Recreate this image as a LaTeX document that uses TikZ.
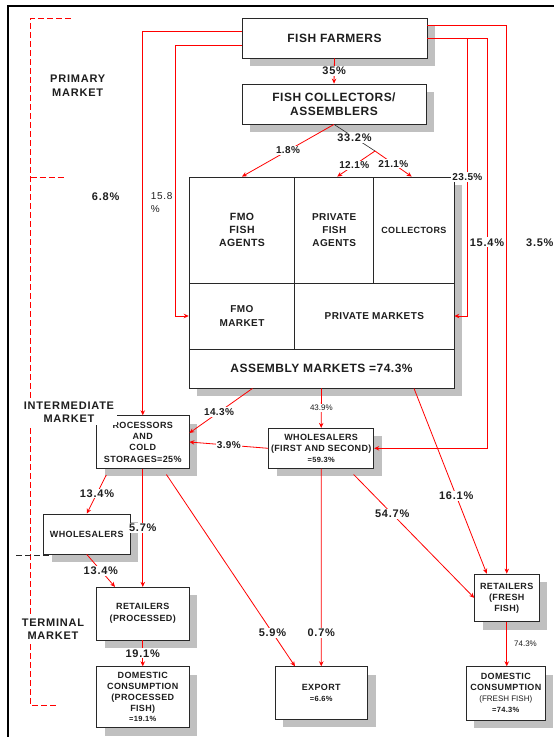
\documentclass[tikz,border=0pt]{standalone}
\usepackage{fontspec}
\setmainfont{Liberation Sans}
\newfontfamily\spacedfont[LetterSpace=4]{Liberation Sans}
\newfontfamily\widefont[LetterSpace=7]{Liberation Sans}
\usepackage{xcolor}
\usepackage{tikz}
\usetikzlibrary{arrows.meta, positioning, shadows, calc}
\definecolor{flowred}{RGB}{255, 0, 0}
\definecolor{textdark}{RGB}{30, 30, 30}
\definecolor{boxline}{RGB}{40, 40, 40}
\definecolor{shadowgray}{RGB}{192, 192, 192}

\begin{document}
\begin{tikzpicture}[
    x=1pt, y=-1pt,
    fishbox/.style={
        draw=boxline,
        fill=white,
        line width=0.8pt,
        align=center,
        text=textdark,
        inner sep=1pt,
        font=\spacedfont\bfseries\fontsize{9}{11}\selectfont,
        drop shadow={shadow xshift=8pt, shadow yshift=-8pt, fill=shadowgray, opacity=1}
    },
    cell/.style={
        draw=boxline,
        line width=0.8pt,
        align=center,
        text=textdark,
        inner sep=1pt,
        font=\spacedfont\bfseries\fontsize{10}{13.3}\selectfont
    },
    flow/.style={draw=flowred, line width=0.8pt, -{Stealth[length=5pt, width=4.5pt]}},
    pct/.style={fill=white, inner sep=1pt, text=textdark, font=\widefont\bfseries\fontsize{11}{12}\selectfont},
    pctmid/.style={fill=white, inner sep=1pt, text=textdark, font=\spacedfont\bfseries\fontsize{10}{11}\selectfont},
    pctsmall/.style={fill=white, inner sep=1pt, text=textdark, font=\fontsize{8}{9}\selectfont},
    pctplain/.style={inner sep=1pt, text=textdark, align=left, font=\widefont\fontsize{10}{13}\selectfont},
    market/.style={fill=white, inner sep=2.5pt, align=center, text=textdark, font=\widefont\bfseries\fontsize{11}{13.5}\selectfont}
]
\useasboundingbox (0,0) rectangle (554,737);

% frame and market brackets
\draw[black, line width=1.5pt] (7.8,737) -- (7.8,6) -- (554,6);
\draw[flowred, line width=0.7pt, dash pattern=on 6pt off 3pt] (70.7,18) -- (30.7,18) -- (30.7,705.7) -- (57.6,705.7);
\draw[flowred, line width=0.7pt, dash pattern=on 6pt off 3pt] (30.7,177.7) -- (66,177.7);
\draw[boxline, line width=0.7pt, dash pattern=on 6pt off 3pt] (16,555.3) -- (58,555.3);

% boxes
\node[fishbox, minimum width=185pt, minimum height=40pt, font=\spacedfont\bfseries\fontsize{12}{14}\selectfont] (farmers) at (334.5,38) {FISH FARMERS};
\node[fishbox, minimum width=184pt, minimum height=40pt, font=\spacedfont\bfseries\fontsize{12}{14}\selectfont] (collectors) at (334,104) {FISH COLLECTORS/\\ASSEMBLERS};

\node[fishbox, minimum width=265pt, minimum height=211pt] (mkt) at (321.5,282.5) {};
\node[cell, minimum width=105.7pt, minimum height=106pt, font=\spacedfont\bfseries\fontsize{10.5}{13.3}\selectfont] (fmoagent) at (242,230) {FMO\\FISH\\AGENTS};
\node[cell, minimum width=79.1pt, minimum height=106pt] (privagent) at (334.25,230) {PRIVATE\\FISH\\AGENTS};
\node[cell, minimum width=80.2pt, minimum height=106pt, font=\spacedfont\bfseries\fontsize{9}{11}\selectfont] (collcell) at (413.9,230) {COLLECTORS};
\node[cell, minimum width=105.7pt, minimum height=66pt] (fmomarket) at (242,316) {FMO\\MARKET};
\node[cell, minimum width=159.3pt, minimum height=66pt] (privmarkets) at (374.35,316) {PRIVATE MARKETS};
\node[cell, minimum width=265pt, minimum height=39pt, font=\spacedfont\bfseries\fontsize{12}{14}\selectfont] (assembly) at (321.5,368.5) {ASSEMBLY MARKETS =74.3\%};

\node[fishbox, minimum width=92.5pt, minimum height=52.6pt, font=\spacedfont\bfseries\fontsize{9}{11.4}\selectfont] (proc) at (142.75,442) {ROCESSORS\\AND\\COLD\\STORAGES=25\%};
\node[fishbox, minimum width=105.2pt, minimum height=40pt] (wh1) at (321.2,448.3) {WHOLESALERS\\(FIRST AND SECOND)\\{\fontsize{7.5}{9}\selectfont =59.3\%}};
\node[fishbox, minimum width=86.5pt, minimum height=40pt] (wh2) at (86.75,534) {WHOLESALERS};
\node[fishbox, minimum width=92.5pt, minimum height=52.7pt, font=\spacedfont\bfseries\fontsize{9}{12}\selectfont] (retproc) at (142.75,613.65) {RETAILERS\\(PROCESSED)};
\node[fishbox, minimum width=92.5pt, minimum height=61pt, font=\spacedfont\bfseries\fontsize{9}{10.8}\selectfont] (domproc) at (142.75,697.2) {DOMESTIC\\CONSUMPTION\\(PROCESSED\\FISH)\\{\fontsize{7.5}{9}\selectfont =19.1\%}};
\node[fishbox, minimum width=92.5pt, minimum height=52.6pt] (export) at (321.25,693) {EXPORT\\{\fontsize{7.5}{9}\selectfont =6.6\%}};
\node[fishbox, minimum width=64.3pt, minimum height=47.7pt] (retfresh) at (506.75,597.85) {RETAILERS\\(FRESH\\FISH)};
\node[fishbox, minimum width=78.8pt, minimum height=53.3pt] (domfresh) at (505.8,693.35) {DOMESTIC\\CONSUMPTION\\{\normalfont\fontsize{8}{10}\selectfont (FRESH FISH)}\\{\fontsize{7.5}{9}\selectfont =74.3\%}};

% flows from the farmers
\draw[flow] (farmers.south) -- node[pct] {35\%} (collectors.north);
\draw[flow] ([yshift=6.3pt]farmers.west) -| node[pct, pos=0.715, left=22pt] {6.8\%} (proc.north);
\draw[flow] ([yshift=-7pt]farmers.west) -| node[pctplain, pos=0.79, left=1.5pt] {15.8\\\%} ([xshift=-13.4pt]fmomarket.west) -- (fmomarket.west);
\draw[flow] ([yshift=13pt]farmers.east) -| node[pct, pos=0.698, right=18pt] {3.5\%} (retfresh.north);
\draw[flow] (farmers.east) -| node[pct, pos=0.749] {15.4\%} ([xshift=112.8pt]wh1.east) -- (wh1.east);
\draw[flow] (farmers.east) -| node[pctmid, pos=0.75] {23.5\%} ([xshift=13pt]privmarkets.east) -- (privmarkets.east);

% collectors split
\coordinate (split) at (375,151);
\draw[flow] (collectors.south) -- node[pctmid] {1.8\%} (fmoagent.north);
\draw[boxline, line width=0.6pt] (collectors.south) -- node[pct] {33.2\%} (split);
\draw[flow] (split) -- node[pctmid, pos=0.55] {12.1\%} ([xshift=3pt]privagent.north);
\draw[flow] (split) -- node[pctmid] {21.1\%} ([xshift=-2.2pt]collcell.north);

% assembly markets onwards
\draw[flow] ([xshift=-69pt]mkt.south) -- node[pctmid, pos=0.53] {14.3\%} ([yshift=9pt]proc.east);
\draw[flow] (mkt.south) -- node[pctsmall] {43.9\%} (wh1.north);
\draw[flow] ([xshift=92.5pt]mkt.south) -- node[pct, pos=0.58] {16.1\%} ([xshift=-20pt]retfresh.north);

\draw[flow] (wh1.west) -- node[pctmid] {3.9\%} (proc.east);
\draw[flow] (wh1.south) -- node[pct, pos=0.83] {0.7\%} (export.north);
\draw[flow, shorten <=8pt] ([xshift=26.8pt]wh1.south) -- node[pct, pos=0.35] {54.7\%} (retfresh.west);
\draw[flow, shorten <=7pt] ([xshift=19.75pt]proc.south) -- node[pct, pos=0.83] {5.9\%} ([xshift=-26.25pt]export.north);
\draw[flow] (proc.south) -- node[pct] {5.7\%} (retproc.north);
\draw[flow, shorten <=7pt] ([xshift=-33.25pt]proc.south) -- node[pct, pos=0.55] {13.4\%} (wh2.north);
\draw[flow] (wh2.south) -- node[pct] {13.4\%} ([xshift=-27.75pt]retproc.north);
\draw[flow] (retproc.south) -- node[pct] {19.1\%} (domproc.north);
\draw[flow] (retfresh.south) -- node[pctsmall, right=6pt] {74.3\%} (retfresh.south |- domfresh.north);

% market levels
\node[market] (primary) at (77.7,85.5) {PRIMARY\\MARKET};
\node[market] (intermediate) at (69,412) {INTERMEDIATE\\MARKET};
\node[market] (terminal) at (53,629) {TERMINAL\\MARKET};
\end{tikzpicture}
\end{document}
